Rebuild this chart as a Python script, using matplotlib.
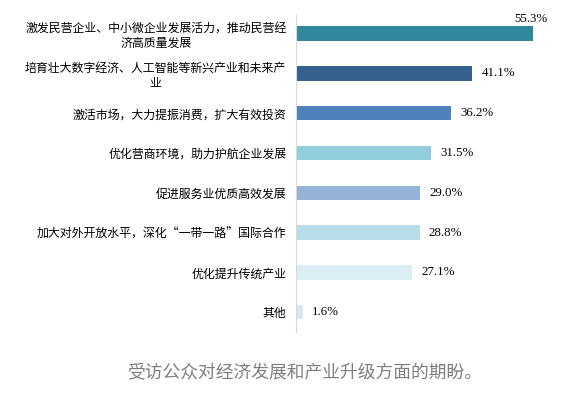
import matplotlib
matplotlib.use('Agg')
import matplotlib.pyplot as plt
import numpy as np

plt.rcParams['font.family'] = ['Noto Sans CJK SC', 'DejaVu Sans']

# ==================== 数据 ====================
categories = ['激发民营企业、中小微企业发展活力，推动民营经\n济高质量发展',
              '培育壮大数字经济、人工智能等新兴产业和未来产\n业',
              '激活市场，大力提振消费，扩大有效投资',
              '优化营商环境，助力护航企业发展',
              '促进服务业优质高效发展',
              '加大对外开放水平，深化“一带一路”国际合作',
              '优化提升传统产业',
              '其他']
values = [55.3, 41.1, 36.2, 31.5, 29.0, 28.8, 27.1, 1.6]
colors = ['#31879C', '#35618F', '#4F81BD', '#92CDDC',
          '#95B3D7', '#B7DEE8', '#DAEEF3', '#DCE6F2']
title = '受访公众对经济发展和产业升级方面的期盼。'

# ==================== 画图 ====================
fig = plt.figure(figsize=(5.66, 3.93), dpi=100)
ax = fig.add_axes([0.523, 0.155, 0.455, 0.81])

y = np.arange(len(values))
bars = ax.barh(y, values, height=0.36, color=colors)
ax.set_ylim(len(values) - 0.5, -0.5)
ax.set_xlim(0, 60)

# 数值标签（第一个放在柱子上方）
for i, (b, v) in enumerate(zip(bars, values)):
    if i == 0:
        ax.text(v + 3.3, i - 0.38, f'{v:.1f}%', ha='right', va='center',
                fontsize=9.3, family='Liberation Serif')
    else:
        ax.text(v + 2.1, i, f'{v:.1f}%', ha='left', va='center',
                fontsize=9.3, family='Liberation Serif')

ax.set_yticks(y)
ax.set_yticklabels(categories, fontsize=8.6, multialignment='center')
ax.tick_params(axis='y', length=0, pad=7)
ax.set_xticks([])
for s in ['top', 'right', 'bottom']:
    ax.spines[s].set_visible(False)
ax.spines['left'].set_color('#D9D9D9')

fig.text(0.539, 0.05, title, ha='center', va='center', fontsize=12.8, color='#7F7F7F')

plt.savefig('out.png', dpi=100)
